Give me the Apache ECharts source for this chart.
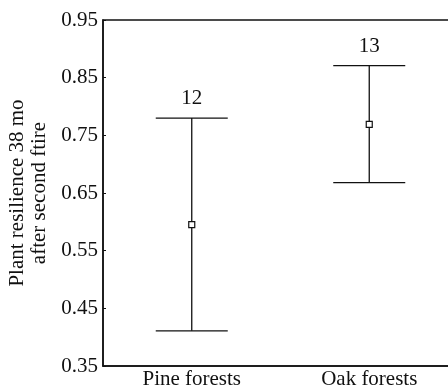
<!DOCTYPE html>
<html>
<head>
<meta charset="utf-8">
<script src="https://cdn.jsdelivr.net/npm/echarts@6/dist/echarts.min.js"></script>
<style>
  html, body { margin: 0; padding: 0; background: #fff; }
  #chart { width: 448px; height: 387px; }
</style>
</head>
<body>
<div id="chart"></div>
<script>
const categories = ['Pine forests', 'Oak forests'];
const means = [0.595, 0.769];
const upper = [0.78, 0.871];
const lower = [0.411, 0.668];
const sampleSizes = ['12', '13'];
const yTicks = [0.35, 0.45, 0.55, 0.65, 0.75, 0.85, 0.95];

const serif = "'Liberation Serif', 'DejaVu Serif', serif";

const barData = categories.map((c, i) => [i, lower[i], upper[i], sampleSizes[i]]);

const chart = echarts.init(document.getElementById('chart'));
chart.setOption({
  animation: false,
  grid: {
    left: 103, top: 20, right: -10, bottom: 21,
    outerBoundsMode: 'none',
    containLabel: false,
    show: true, borderColor: '#111', borderWidth: 1.5
  },
  xAxis: {
    type: 'category',
    data: categories,
    boundaryGap: true,
    axisLine: { lineStyle: { color: '#111', width: 1.5 } },
    axisTick: { inside: true, length: 3, lineStyle: { color: '#111' } },
    axisLabel: { color: '#111', fontFamily: serif, fontSize: 21, margin: 3 }
  },
  yAxis: {
    type: 'value',
    min: 0.35,
    max: 0.95,
    name: 'Plant resilience 38 mo\nafter second ftire',
    nameLocation: 'middle',
    nameRotate: 90,
    nameGap: 50,
    nameTextStyle: { color: '#111', fontFamily: serif, fontSize: 21, lineHeight: 22 },
    splitLine: { show: false },
    axisLine: { show: true, lineStyle: { color: '#111', width: 1.5 } },
    axisTick: { show: true, inside: true, length: 3, customValues: yTicks, lineStyle: { color: '#111' } },
    axisLabel: {
      customValues: yTicks,
      color: '#111', fontFamily: serif, fontSize: 21, margin: 5,
      formatter: v => v.toFixed(2)
    }
  },
  series: [
    {
      type: 'custom',
      data: barData,
      encode: { x: 0, y: [1, 2] },
      renderItem: function (params, api) {
        const lo = api.coord([api.value(0), api.value(1)]);
        const hi = api.coord([api.value(0), api.value(2)]);
        const half = 36;
        const style = { stroke: '#111', lineWidth: 1.3, fill: null };
        return {
          type: 'group',
          children: [
            { type: 'line', shape: { x1: lo[0], y1: lo[1], x2: hi[0], y2: hi[1] }, style: style },
            { type: 'line', shape: { x1: hi[0] - half, y1: hi[1], x2: hi[0] + half, y2: hi[1] }, style: style },
            { type: 'line', shape: { x1: lo[0] - half, y1: lo[1], x2: lo[0] + half, y2: lo[1] }, style: style },
            {
              type: 'text',
              style: {
                text: sampleSizes[params.dataIndex],
                x: hi[0], y: hi[1] - 9,
                align: 'center', verticalAlign: 'bottom',
                font: '21px ' + serif, fill: '#111'
              }
            }
          ]
        };
      },
      z: 2
    },
    {
      type: 'scatter',
      data: means.map((m, i) => [i, m]),
      symbol: 'rect',
      symbolSize: 6,
      itemStyle: { color: '#fff', borderColor: '#111', borderWidth: 1.2, opacity: 1 },
      z: 3
    }
  ]
});
</script>
</body>
</html>
